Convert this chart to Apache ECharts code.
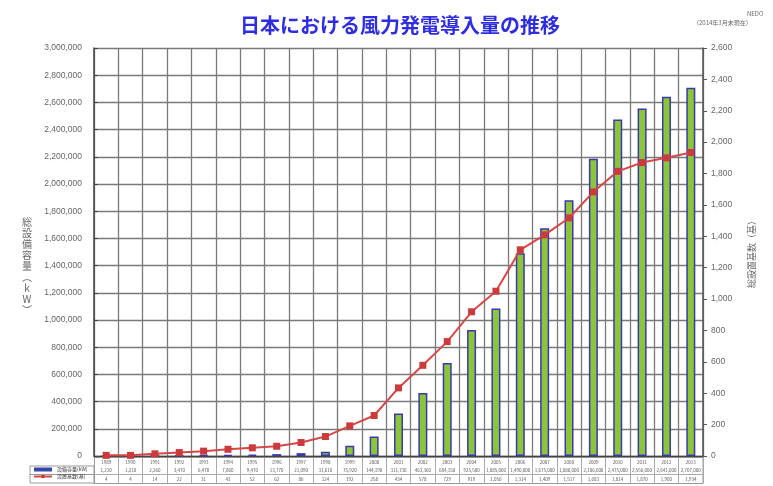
<!DOCTYPE html>
<html><head><meta charset="utf-8">
<script src="https://cdn.jsdelivr.net/npm/echarts@6/dist/echarts.min.js"></script>
<style>html,body{margin:0;padding:0;background:#fff}#c{width:773px;height:486px}</style>
</head><body><div id="c"></div>
<script>
const years = ['1989','1990','1991','1992','1993','1994','1995','1996','1997','1998','1999','2000','2001','2002','2003','2004','2005','2006','2007','2008','2009','2010','2011','2012','2013'];
const capacityKW = [1210,1210,2260,3470,6470,7860,9470,13770,21090,31610,75920,144190,311730,463360,684150,925580,1085000,1490000,1675000,1880000,2186000,2475000,2556000,2641000,2707000];
const units = [4,4,14,22,31,43,52,62,86,124,192,258,434,578,729,919,1050,1314,1409,1517,1683,1814,1870,1900,1934];
const capName = '設備容量(kW)';
const unitName = '設置基数(基)';
const leftAxisTitle = '総設備容量︵kW︶';
const rightAxisTitle = '総設置基数（基）';
const leftTicks = {min:0, max:3000000, interval:200000};
const rightTicks = {min:0, max:2600, interval:200};

const fmt = v => v.toLocaleString('en-US');
const chart = echarts.init(document.getElementById('c'));
const CJK = '"Noto Sans CJK JP", "Noto Sans", sans-serif';
chart.setOption({
  animation:false,
  backgroundColor:'#fff',
  textStyle:{fontFamily:CJK},
  title:[
    {text:'日本における風力発電導入量の推移', left:395, top:10, textAlign:'center',
     textStyle:{fontSize:20, fontWeight:'bold', color:'#2e2ee0', fontFamily:CJK}},
    {text:'NEDO', left:742, top:6, textStyle:{fontSize:6, color:'#666', fontWeight:'normal'}},
    {text:'（2014年3月末現在）', left:688, top:15, textStyle:{fontSize:6, color:'#666', fontWeight:'normal'}},
    {text:leftAxisTitle.split('').join('\n'), left:22, top:212, textAlign:'center',
     textStyle:{fontSize:10, lineHeight:11, color:'#666', fontWeight:'normal'}}
  ],
  legend:{
    orient:'vertical', left:33, top:467, padding:0, itemGap:2, itemWidth:18, itemHeight:4,
    textStyle:{fontSize:5, color:'#333'},
    data:[{name:capName, icon:'rect', itemStyle:{color:'#3644a8', borderWidth:0}},
          {name:unitName}]
  },
  grid:[
    {left:94, right:70, top:48, bottom:30},
    {left:94, right:70, top:457, height:26}
  ],
  xAxis:[
    {type:'category', gridIndex:0, data:years, boundaryGap:true,
     axisLine:{show:true, lineStyle:{color:'#444', width:1.3}},
     axisTick:{show:false},
     splitLine:{show:true, interval:0, lineStyle:{color:'#7a7a7a', width:1.3}},
     axisLabel:{interval:0, margin:2, fontSize:4.5, lineHeight:8.5, color:'#555',
       formatter:(v,i)=> v + '\n' + fmt(capacityKW[i]) + '\n' + fmt(units[i])}},
    {type:'category', gridIndex:1, data:years, boundaryGap:true,
     axisLine:{show:true, lineStyle:{color:'#999'}}, axisTick:{show:false}, axisLabel:{show:false},
     splitLine:{show:true, interval:0, lineStyle:{color:'#aaa', width:1}}}
  ],
  yAxis:[
    {type:'value', gridIndex:0, min:leftTicks.min, max:leftTicks.max, interval:leftTicks.interval,
     axisLine:{show:true, lineStyle:{color:'#444', width:1.5}},
     axisTick:{show:true, inside:true, length:4, lineStyle:{color:'#444'}},
     splitLine:{show:true, lineStyle:{color:'#7a7a7a', width:1.3}},
     axisLabel:{margin:12, fontSize:8.5, color:'#666', fontFamily:'"Liberation Sans", Arial, sans-serif', formatter:v=>fmt(v)}},
    {type:'value', gridIndex:0, min:rightTicks.min, max:rightTicks.max, interval:rightTicks.interval, position:'right',
     name:rightAxisTitle, nameLocation:'middle', nameRotate:90, nameGap:49,
     nameTextStyle:{fontSize:9, color:'#666', align:'center', verticalAlign:'middle'},
     axisLine:{show:true, lineStyle:{color:'#555', width:1.5}},
     axisTick:{show:true, length:4, lineStyle:{color:'#555'}},
     splitLine:{show:false},
     axisLabel:{margin:8, fontSize:8.5, color:'#666', fontFamily:'"Liberation Sans", Arial, sans-serif', formatter:v=>fmt(v)}},
    {type:'category', gridIndex:1, data:['a','b','c'], inverse:true,
     axisLine:{show:true, lineStyle:{color:'#999'}}, axisTick:{show:false}, axisLabel:{show:false},
     splitLine:{show:true, lineStyle:{color:'#aaa'}}}
  ],
  graphic:[
    {type:'rect', shape:{x:30, y:466, width:64, height:17}, style:{fill:'none', stroke:'#999', lineWidth:1}, silent:true},
    {type:'line', shape:{x1:30, y1:474.5, x2:94, y2:474.5}, style:{stroke:'#999', lineWidth:1}, silent:true},
    {type:'line', shape:{x1:703, y1:457, x2:703, y2:483}, style:{stroke:'#999', lineWidth:1}, silent:true}
  ],
  series:[
    {name:capName, type:'bar', xAxisIndex:0, yAxisIndex:0, data:capacityKW, barWidth:9,
     itemStyle:{color:'#8cc43c', borderColor:'#3a3aa8', borderWidth:1.5}},
    {name:unitName, type:'line', xAxisIndex:0, yAxisIndex:1, data:units, symbol:'rect', symbolSize:7,
     lineStyle:{color:'#d4484a', width:2}, itemStyle:{color:'#cc3b3b'}, z:5}
  ]
});
</script></body></html>
